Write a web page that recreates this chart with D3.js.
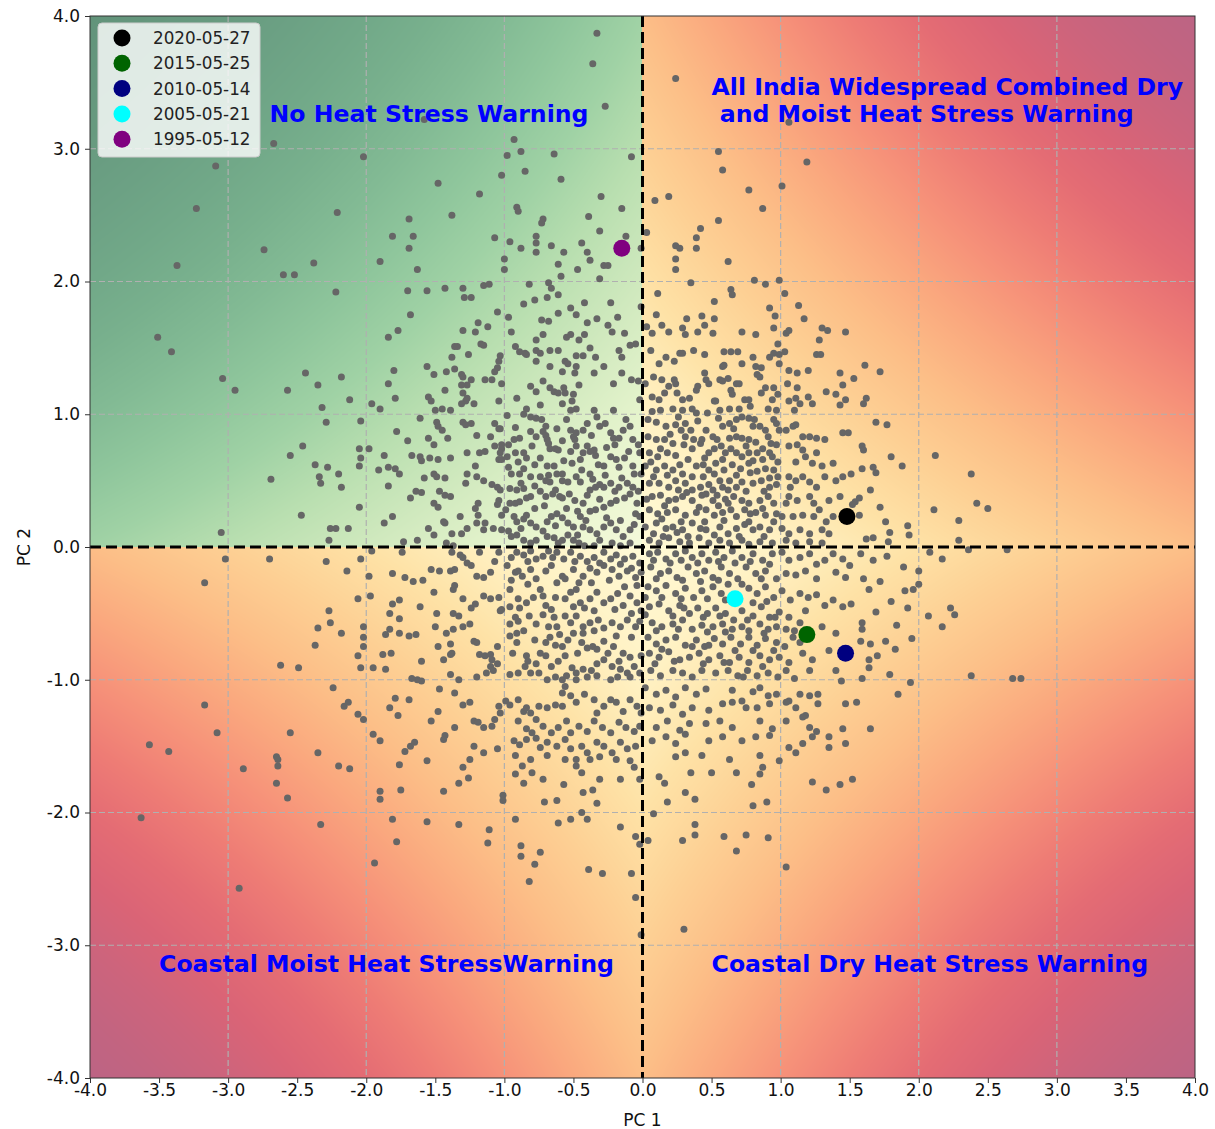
<!DOCTYPE html>
<html>
<head>
<meta charset="utf-8">
<script src="https://cdn.jsdelivr.net/npm/d3@7"></script>
<style>
  body { margin: 0; background: #fff; }
  text { font-family: "DejaVu Sans", sans-serif; }
</style>
</head>
<body>
<svg id="chart" width="1215" height="1129"></svg>
<script>
// tick labels
const xTickValues = [-4, -3.5, -3, -2.5, -2, -1.5, -1, -0.5, 0, 0.5, 1, 1.5, 2, 2.5, 3, 3.5, 4];
const yTickValues = [-4, -3, -2, -1, 0, 1, 2, 3, 4];
const gridValues = [-3, -2, -1, 1, 2, 3];

// highlighted days
const highlightDates = ["2020-05-27", "2015-05-25", "2010-05-14", "2005-05-21", "1995-05-12"];
const highlightPC1 = [1.48, 1.19, 1.47, 0.67, -0.15];
const highlightPC2 = [0.23, -0.66, -0.80, -0.39, 2.25];

// quadrant labels
const quadrantLabels = [
  ["No Heat Stress Warning"],
  ["All India Widespread Combined Dry", " and Moist Heat Stress Warning"],
  ["Coastal Moist Heat StressWarning"],
  ["Coastal Dry Heat Stress Warning"]
];

// all days, [PC1, PC2]
const outerTopLeft = [[-0.33,3.87],[-0.36,3.64],[-0.27,3.32],[-1.58,3.22],[-0.93,3.07],[-0.88,2.98],[-0.98,2.95],[-0.64,2.96],[-0.08,2.94],[-2.67,3.04],[-2.02,2.94],[-3.09,2.87],[-0.85,2.83],[-1.02,2.80],[-1.48,2.74],[-1.18,2.66],[-0.59,2.77],[-0.30,2.64],[-0.15,2.55],[-0.91,2.56],[-0.90,2.53],[-1.38,2.50],[-3.23,2.55],[-2.21,2.52],[-1.69,2.47],[-0.72,2.47],[-0.73,2.44],[-0.39,2.49],[-0.31,2.38],[-1.81,2.34],[-1.66,2.34],[-1.69,2.25],[-1.07,2.33],[-0.96,2.30],[-0.77,2.34],[-0.77,2.29],[-0.77,2.22],[-0.88,2.25],[-0.66,2.27],[-0.57,2.22],[-0.44,2.29],[-0.40,2.22],[-0.38,2.16],[-0.12,2.34],[-0.01,2.25],[-2.74,2.24],[-3.37,2.12],[-2.38,2.14],[-1.90,2.15],[-1.63,2.09],[-1.00,2.17],[-1.00,2.09],[-0.61,2.13],[-0.47,2.09],[-0.28,2.12],[-0.25,2.12],[-0.31,2.02],[-2.60,2.05],[-2.52,2.05],[-1.15,1.97],[-1.11,1.98],[-0.82,1.98],[-0.68,1.99],[-0.66,1.95],[-0.59,2.04],[-2.22,1.92],[-1.70,1.93],[-1.56,1.93],[-1.43,1.95],[-1.30,1.95],[-1.29,1.88],[-1.24,1.88],[-0.86,1.83],[-0.78,1.86],[-0.69,1.88],[-0.61,1.90],[-0.42,1.84],[-0.23,1.84],[-0.01,1.81],[-1.05,1.77],[-0.97,1.73],[-0.61,1.76],[-0.52,1.80],[-0.48,1.75],[-0.33,1.72],[-0.18,1.73],[-1.68,1.75],[-1.19,1.69],[-0.73,1.71],[-0.68,1.70],[-0.40,1.69],[-1.12,1.66],[-0.25,1.67],
  [-1.77,1.63],[-1.84,1.58],[-3.51,1.58],[-3.41,1.47],[-1.56,1.36],[-2.44,1.31],[-2.18,1.28],[-1.80,1.33],[-3.04,1.27],[-2.95,1.18],[-2.57,1.18],[-2.35,1.22],[-1.84,1.23],[-2.12,1.11],[-1.96,1.08],[-1.90,1.04],[-1.79,1.12],[-2.32,1.05],[-2.29,0.94],[-2.04,0.95],[-1.61,0.97],[-1.78,0.87],[-1.70,0.80],[-2.46,0.76],[-2.55,0.69],[-2.05,0.74],[-1.98,0.74],[-2.04,0.67],[-1.87,0.69],[-1.67,0.69],[-1.61,0.68],[-1.60,0.65],[-2.37,0.62],[-2.28,0.60],[-2.34,0.53],[-2.33,0.48],[-2.20,0.55],[-2.18,0.45],[-2.69,0.51],[-2.05,0.61],[-1.91,0.58],[-1.84,0.60],[-1.79,0.59],[-1.76,0.55],[-1.58,0.52],[-1.84,0.46],[-1.68,0.37],[-1.64,0.42],[-1.60,0.41],[-2.05,0.30],[-2.47,0.24],[-3.05,0.11],[-1.81,0.23],[-1.87,0.18],[-2.26,0.14],[-2.22,0.14],[-2.13,0.14],[-2.27,0.05],[-1.73,0.04],[-1.55,0.14],[-1.63,0.05],[-1.55,1.13],[-1.55,0.82]];

const outerTopRight = [[0.24,3.53],[1.06,3.20],[0.55,2.98],[0.58,2.84],[1.19,2.90],[1.01,2.72],[0.77,2.69],[0.87,2.55],[0.09,2.61],[0.19,2.64],[0.55,2.46],[0.03,2.37],[0.42,2.40],[0.39,2.33],[0.24,2.27],[0.27,2.25],[0.39,2.25],[0.24,2.17],[0.24,2.09],[0.62,2.15],[0.35,1.99],[0.11,1.91],[0.81,2.01],[0.89,1.98],[0.99,2.01],[0.64,1.94],[0.65,1.90],[1.03,1.91],[0.52,1.85],[1.13,1.82],[0.92,1.80],[0.10,1.75],[0.14,1.67],[0.32,1.72],[0.43,1.74],[0.52,1.72],[0.45,1.67],[0.96,1.74],[1.17,1.72],[1.30,1.65],[0.29,1.65],[0.95,1.65],[0.03,1.66],
  [1.61,1.37],[1.72,1.32],[1.62,1.12],[1.60,1.08],[1.69,0.94],[1.77,0.92],[2.12,0.69],[2.38,0.55],[2.11,0.28],[2.42,0.33],[2.50,0.29],[2.29,0.20],[2.29,0.05],[1.92,0.16],[1.93,0.09],[1.79,0.11],[1.78,0.04],[1.67,0.07],[1.62,0.06],[1.59,0.76],[1.60,0.73],[1.80,0.68],[1.88,0.61],[1.59,0.59],[1.67,0.60],[1.69,0.56],[1.65,0.43],[1.72,0.30],[1.57,0.24],[1.54,0.34],[1.57,0.37],[1.76,0.19]];

const outerBottomLeft = [[-3.02,-0.09],[-2.70,-0.09],[-2.29,-0.11],[-2.04,-0.09],[-3.17,-0.27],[-2.14,-0.18],[-1.98,-0.22],[-2.06,-0.39],[-1.97,-0.37],[-2.27,-0.48],[-2.26,-0.57],[-2.35,-0.61],[-2.18,-0.65],[-2.37,-0.74],[-2.02,-0.60],[-2.02,-0.68],[-2.02,-0.75],[-2.06,-0.82],[-2.04,-0.91],[-2.62,-0.89],[-2.49,-0.91],[-2.24,-1.06],[-2.16,-1.20],[-2.13,-1.17],[-2.06,-1.26],[-2.02,-1.30],[-3.17,-1.19],[-3.08,-1.40],[-2.55,-1.40],[-3.57,-1.49],[-3.43,-1.54],[-2.89,-1.67],[-2.65,-1.58],[-2.64,-1.60],[-2.64,-1.65],[-2.35,-1.55],[-2.20,-1.65],[-2.12,-1.67],[-2.65,-1.78],[-2.57,-1.89],[-3.63,-2.04],[-2.33,-2.09],[-2.92,-2.57],[-1.95,-1.41],[-1.90,-1.46],[-1.94,-2.38],[-1.81,-2.05],[-1.78,-2.22],[-1.90,-1.84],[-1.90,-1.90],[-1.75,-1.83],[-1.76,-1.64],[-1.72,-1.54],[-1.68,-1.50],[-1.65,-1.47],[-1.56,-1.61],[-1.44,-1.84],[-1.56,-2.07],[-1.33,-2.09],[-1.11,-2.13],[-1.12,-2.23],[-0.88,-2.25],[-0.88,-2.33],[-0.74,-2.30],[-0.78,-2.39],[-0.82,-2.52],[-0.39,-2.43],[-0.29,-2.46],[-0.08,-2.46],[-0.05,-2.64],[-0.01,-2.92],[-0.92,-2.05],[-0.61,-2.08],[-0.52,-2.05],[-0.40,-2.05],[-0.16,-2.11],[-0.05,-2.18],[-0.02,-2.24],[-1.01,-1.87],[-1.01,-1.91],[-0.71,-1.92],[-0.57,-1.79],[-0.43,-1.85],[-0.33,-1.93],[-0.44,-2.00],[-0.92,-1.71],[-0.86,-1.78],[-0.80,-1.70],[-0.72,-1.75],[-1.33,-1.78],[-1.26,-1.74],[-1.30,-1.66],[-0.87,-1.65],[-0.48,-1.65],[-0.31,-1.75],[-0.44,-1.70],[-0.36,-1.83],[-0.16,-1.75],[-0.06,-1.66],[-0.02,-1.75],[-0.62,-1.91],[-1.83,-1.21],[-1.77,-1.27],[-1.69,-1.15],[-1.79,-1.14],[-1.63,-1.00],[-1.60,-1.01],[-1.67,-0.99],
  [-1.96,-0.03],[-1.81,-0.20],[-1.74,-0.04],[-1.72,-0.23],[-1.66,-0.26],[-1.59,-0.25],[-1.61,-0.45],[-1.76,-0.54],[-1.83,-0.50],[-1.81,-0.43],[-1.76,-0.40],[-1.83,-0.62],[-1.86,-0.66],[-1.76,-0.65],[-1.69,-0.67],[-1.64,-0.66],[-1.88,-0.81],[-1.82,-0.80],[-1.95,-0.91],[-1.86,-0.92],[-1.60,-0.86]];

const outerBottomRight = [[2.17,-0.09],[2.08,-0.04],[2.36,-0.02],[2.64,-0.02],[2.23,-0.46],[2.26,-0.51],[2.07,-0.52],[2.17,-0.60],[1.95,-0.69],[1.84,-0.59],[1.83,-0.77],[1.76,-0.71],[1.89,-0.15],[2.00,-0.18],[1.90,-0.33],[1.96,-0.32],[2.00,-0.28],[1.92,-0.46],[1.80,-0.41],[1.69,-0.49],[1.59,-0.57],[1.59,-0.62],[1.65,-0.73],[1.70,-0.82],[1.58,-0.71],[1.64,-0.85],[1.64,-0.91],[1.79,-0.96],[2.38,-0.97],[2.68,-0.99],[2.74,-0.99],[1.94,-1.02],[1.85,-1.11],[1.59,-0.99],[1.55,-1.17],[1.65,-1.37],[1.58,-0.05],[1.67,-0.10],[1.77,-0.07],[1.72,-0.26],[1.64,-0.32],[1.60,-0.24],
  [1.23,-1.77],[1.33,-1.83],[1.43,-1.79],[1.52,-1.75],[1.04,-2.41],[0.68,-2.29],[0.30,-2.88],[0.04,-2.21],[0.29,-2.21],[0.38,-2.17],[0.38,-2.09],[0.59,-2.18],[0.75,-2.17],[0.91,-2.19],[0.08,-2.01],[0.18,-1.92],[0.31,-1.85],[0.38,-1.90],[0.80,-1.95],[0.90,-1.92],[0.79,-1.79],[0.85,-1.71],[0.12,-1.73],[0.16,-1.78],[0.35,-1.70],[0.50,-1.70],[0.68,-1.70],[0.87,-1.66]];

const coreTopLeft = [[-1.30,1.63],[-1.21,1.62],[-1.17,1.53],[-1.15,1.52],[-1.36,1.51],[-1.34,1.51],[-1.38,1.43],[-1.26,1.45],[-1.03,1.44],[-1.04,1.40],[-1.05,1.35],[-1.07,1.32],[-1.42,1.32],[-1.36,1.34],[-1.51,1.30],[-1.31,1.30],[-1.30,1.28],[-1.24,1.26],[-1.14,1.26],[-1.09,1.26],[-1.27,1.22],[-1.31,1.22],[-1.02,1.23],[-1.43,1.18],[-1.53,1.10],[-1.30,1.16],[-1.27,1.12],[-1.28,1.10],[-1.31,1.08],[-1.22,1.08],[-1.04,1.10],[-1.45,1.04],[-1.50,1.03],[-1.39,1.03],
  [-0.95,1.62],[-0.92,1.51],[-0.89,1.47],[-0.85,1.46],[-0.84,1.45],[-0.77,1.56],[-0.72,1.60],[-0.77,1.48],[-0.74,1.46],[-0.67,1.48],[-0.61,1.48],[-0.55,1.58],[-0.52,1.60],[-0.46,1.56],[-0.42,1.60],[-0.38,1.50],[-0.22,1.62],[-0.13,1.61],[-0.05,1.53],[-0.09,1.52],[-0.17,1.48],[-0.15,1.43],[-0.48,1.44],[-0.43,1.44],[-0.34,1.43],[-0.56,1.40],[-0.54,1.38],[-0.77,1.40],[-0.67,1.36],[-0.58,1.32],[-0.48,1.36],[-0.49,1.31],[-0.35,1.31],[-0.28,1.36],[-0.15,1.31],[-0.08,1.26],[-0.03,1.25],[-0.81,1.21],[-0.77,1.17],[-0.72,1.25],[-0.67,1.20],[-0.64,1.17],[-0.61,1.16],[-0.57,1.20],[-0.56,1.16],[-0.46,1.22],[-0.50,1.15],[-0.21,1.23],[-0.91,1.12],[-0.84,1.04],[-0.74,1.07],[-0.58,1.08],[-0.51,1.10],[-0.48,1.04],[-0.52,1.03],[-0.35,1.03],[-0.21,1.03],[-0.02,1.11],
  [-1.49,0.94],[-1.48,0.91],[-1.45,0.88],[-1.30,0.94],[-1.28,0.92],[-1.24,0.93],[-1.07,0.93],[-1.04,0.89],[-1.03,0.89],[-1.41,0.82],[-1.20,0.84],[-1.10,0.83],[-1.07,0.76],[-1.02,0.77],[-1.02,0.74],[-1.03,0.71],[-1.51,0.77],[-1.54,0.67],[-1.48,0.66],[-1.39,0.67],[-1.27,0.71],[-1.18,0.71],[-1.14,0.72],[-1.04,0.66],[-1.02,0.66],[-1.21,0.61],[-1.20,0.53],[-1.27,0.55],[-1.51,0.55],[-1.49,0.53],[-1.43,0.52],[-1.28,0.48],[-1.15,0.50],[-1.09,0.47],[-1.05,0.45],[-1.03,0.43],[-1.04,0.35],[-1.47,0.42],[-1.43,0.39],[-1.39,0.38],[-1.51,0.33],[-1.48,0.30],[-1.19,0.33],[-1.21,0.29],[-1.05,0.32],[-1.43,0.18],[-1.44,0.19],[-1.32,0.23],[-1.19,0.24],[-1.14,0.18],[-1.20,0.18],[-1.08,0.14],[-1.51,0.09],[-1.38,0.10],[-1.31,0.10],[-1.27,0.14],[-1.15,0.13],[-1.02,0.24],[-1.02,0.13],[-1.42,0.03],[-1.37,0.01],
  [-0.98,0.99],[-0.81,0.98],[-0.77,0.97],[-0.73,0.96],[-0.70,0.91],[-0.72,0.87],[-0.70,0.84],[-0.69,0.81],[-0.68,0.78],[-0.67,0.74],[-0.63,0.74],[-0.61,0.73],[-0.81,0.87],[-0.77,0.83],[-0.89,0.82],[-0.93,0.81],[-0.97,0.77],[-0.98,0.68],[-0.92,0.71],[-0.90,0.64],[-0.86,0.71],[-0.84,0.67],[-0.74,0.67],[-0.69,0.61],[-0.64,0.61],[-0.68,0.54],[-0.62,0.55],[-0.58,0.55],[-0.52,0.88],[-0.50,0.83],[-0.48,0.86],[-0.49,0.81],[-0.43,0.88],[-0.40,0.93],[-0.33,0.98],[-0.31,0.91],[-0.27,0.93],[-0.23,0.86],[-0.21,0.82],[-0.20,0.77],[-0.17,0.82],[-0.14,0.88],[-0.09,0.91],[-0.07,0.81],[-0.03,0.77],[-0.02,0.71],[-0.23,0.68],[-0.19,0.66],[-0.13,0.67],[-0.07,0.61],[-0.28,0.61],[-0.34,0.69],[-0.35,0.73],[-0.38,0.72],[-0.40,0.76],[-0.43,0.71],[-0.48,0.76],[-0.52,0.72],[-0.51,0.63],[-0.44,0.58],[-0.38,0.55],[-0.48,0.53],[-0.54,0.49],[-0.58,0.50],[-0.67,0.49],[-0.74,0.53],[-0.81,0.53],[-0.89,0.55],[-0.95,0.55],[-0.96,0.44],[-0.91,0.43],[-0.86,0.44],[-0.81,0.38],[-0.84,0.37],[-0.89,0.34],[-0.92,0.33],[-0.96,0.33],[-0.74,0.42],[-0.70,0.38],[-0.65,0.40],[-0.63,0.43],[-0.60,0.38],[-0.58,0.37],[-0.53,0.40],[-0.49,0.35],[-0.43,0.33],[-0.40,0.39],[-0.38,0.43],[-0.34,0.45],[-0.31,0.47],[-0.28,0.45],[-0.23,0.48],[-0.17,0.45],[-0.11,0.48],[-0.07,0.45],[-0.01,0.55],[-0.38,0.27],[-0.34,0.28],[-0.28,0.30],[-0.23,0.33],[-0.19,0.35],[-0.13,0.37],[-0.09,0.40],[-0.04,0.33],[-0.05,0.25],[-0.02,0.23],[-0.93,0.23],[-0.91,0.19],[-0.86,0.21],[-0.84,0.24],[-0.81,0.18],[-0.77,0.15],[-0.69,0.19],[-0.66,0.23],[-0.62,0.25],[-0.58,0.22],[-0.54,0.18],[-0.50,0.15],[-0.45,0.23],[-0.43,0.15],[-0.38,0.13],[-0.33,0.10],[-0.28,0.15],[-0.23,0.18],[-0.19,0.13],[-0.14,0.08],[-0.09,0.13],[-0.95,0.08],[-0.91,0.09],[-0.86,0.05],[-0.81,0.03],[-0.77,0.05],[-0.69,0.08],[-0.64,0.07],[-0.61,0.03],[-0.58,0.05],[-0.54,0.09],[-0.50,0.05],[-0.46,0.03],[-0.42,0.01],[-0.35,0.01],[-0.31,0.05],[-0.22,0.03],[-0.16,0.01],[-0.09,0.03],
  [-0.97,0.12],[-0.88,0.14],[-0.72,0.12],[-0.63,0.16],[-0.47,0.09],[-0.41,0.20],[-0.26,0.22],[-0.16,0.20],[-0.06,0.17],[-0.99,0.28],[-0.78,0.29],[-0.71,0.31],[-0.55,0.29],[-0.47,0.27],[-0.31,0.36],[-0.20,0.42],[-0.03,0.42],[-0.88,0.48],[-0.78,0.46],[-0.70,0.50],[-0.45,0.49],[-0.36,0.51],[-0.27,0.54],[-0.15,0.52],[-0.06,0.55],[-0.97,0.60],[-0.86,0.59],[-0.78,0.62],[-0.57,0.65],[-0.45,0.66],[-0.32,0.62],[-0.17,0.60],[-0.10,0.72],[-0.26,0.75],[-0.58,0.80],[-0.80,0.76],[-0.92,0.90],[-0.62,0.89],[-0.37,0.84],[-0.12,0.96],[-0.55,0.96],[-0.86,1.00]];

const coreTopRight = [[0.07,1.61],[0.19,1.62],[0.31,1.60],[0.40,1.62],[0.51,1.61],[0.72,1.62],[0.82,1.60],[0.98,1.53],[1.04,1.61],[1.06,1.63],[1.28,1.56],[1.26,1.45],[1.29,1.45],[1.34,1.63],[1.47,1.62],[0.06,1.48],[0.12,1.38],[0.17,1.43],[0.23,1.40],[0.27,1.46],[0.29,1.46],[0.37,1.48],[0.45,1.45],[0.59,1.47],[0.64,1.47],[0.69,1.47],[0.58,1.36],[0.59,1.37],[0.72,1.38],[0.80,1.43],[0.82,1.36],[0.86,1.35],[0.92,1.43],[0.95,1.46],[0.99,1.45],[1.03,1.47],[0.99,1.38],[1.06,1.33],[1.12,1.31],[1.20,1.33],[1.43,1.31],[1.45,1.22],[1.33,1.17],[1.40,1.15],[1.53,1.27],
  [0.02,1.23],[0.08,1.28],[0.14,1.26],[0.23,1.26],[0.24,1.23],[0.19,1.21],[0.25,1.16],[0.29,1.11],[0.07,1.13],[0.12,1.11],[0.16,1.16],[0.34,1.12],[0.39,1.18],[0.40,1.21],[0.45,1.31],[0.46,1.26],[0.48,1.23],[0.52,1.10],[0.53,1.10],[0.56,1.26],[0.58,1.25],[0.62,1.27],[0.64,1.18],[0.65,1.15],[0.68,1.23],[0.70,1.23],[0.74,1.11],[0.77,1.11],[0.78,1.06],[0.83,1.30],[0.85,1.28],[0.86,1.16],[0.89,1.20],[0.95,1.20],[0.98,1.15],[0.94,1.11],[0.91,1.04],[0.97,1.03],[1.05,1.23],[1.12,1.20],[1.11,1.12],[1.14,1.08],[1.06,1.10],[1.20,1.13],[1.23,1.08],[1.10,1.03],[1.43,1.07],[1.47,1.11],[0.07,1.02],[0.13,1.03],[0.22,1.04],[0.29,1.03],[0.36,1.04],[0.39,1.01],[0.47,1.01],[0.56,1.03],[0.63,1.04],[0.70,1.04],
  [0.04,0.96],[0.10,0.94],[0.17,0.91],[0.24,0.92],[0.31,0.93],[0.28,0.88],[0.31,0.83],[0.37,0.81],[0.30,0.77],[0.04,0.83],[0.10,0.81],[0.16,0.81],[0.22,0.78],[0.13,0.74],[0.05,0.71],[0.11,0.68],[0.18,0.71],[0.24,0.69],[0.36,0.74],[0.42,0.78],[0.43,0.81],[0.46,0.88],[0.51,0.83],[0.54,0.81],[0.58,0.91],[0.57,0.76],[0.52,0.74],[0.48,0.71],[0.45,0.67],[0.63,0.93],[0.68,0.96],[0.72,0.98],[0.77,0.97],[0.80,0.91],[0.81,0.96],[0.85,0.91],[0.89,0.88],[0.91,0.83],[0.95,0.96],[0.97,0.93],[0.99,0.88],[0.93,0.78],[0.97,0.77],[0.87,0.74],[0.82,0.79],[0.77,0.81],[0.72,0.82],[0.68,0.83],[0.63,0.82],[0.64,0.74],[0.68,0.71],[0.72,0.68],[0.77,0.71],[0.83,0.71],[0.87,0.66],[0.94,0.68],[0.98,0.64],[1.04,0.88],[1.09,0.91],[1.11,0.92],[1.16,0.83],[1.21,0.83],[1.26,0.82],[1.32,0.81],[1.45,0.86],[1.49,0.86],[1.06,0.76],[1.12,0.77],[1.16,0.73],[1.18,0.68],[1.11,0.64],[1.23,0.63],[1.30,0.61],[1.38,0.63],[1.26,0.71],
  [0.02,0.61],[0.10,0.58],[0.16,0.61],[0.22,0.58],[0.29,0.55],[0.36,0.53],[0.39,0.61],[0.48,0.58],[0.53,0.63],[0.59,0.58],[0.65,0.62],[0.71,0.59],[0.77,0.63],[0.83,0.57],[0.89,0.59],[0.95,0.58],[0.98,0.53],[0.05,0.48],[0.12,0.48],[0.19,0.45],[0.24,0.50],[0.31,0.48],[0.36,0.43],[0.42,0.45],[0.48,0.47],[0.51,0.43],[0.56,0.50],[0.58,0.45],[0.63,0.50],[0.68,0.45],[0.72,0.49],[0.80,0.48],[0.86,0.50],[0.92,0.45],[0.97,0.47],[1.06,0.53],[1.07,0.45],[1.11,0.50],[1.16,0.53],[1.21,0.49],[1.26,0.45],[1.32,0.53],[1.40,0.50],[1.45,0.53],[1.51,0.55],[0.07,0.38],[0.13,0.39],[0.19,0.35],[0.24,0.36],[0.29,0.38],[0.36,0.35],[0.43,0.39],[0.51,0.35],[0.54,0.39],[0.60,0.36],[0.66,0.38],[0.72,0.35],[0.77,0.33],[0.85,0.35],[0.91,0.38],[0.95,0.33],[1.04,0.33],[1.06,0.38],[1.12,0.35],[1.21,0.38],[1.24,0.33],[1.28,0.28],[1.35,0.35],[1.43,0.38],[1.52,0.32],[0.05,0.28],[0.11,0.25],[0.18,0.26],[0.24,0.28],[0.31,0.24],[0.39,0.26],[0.46,0.28],[0.52,0.24],[0.58,0.26],[0.64,0.28],[0.68,0.23],[0.78,0.25],[0.82,0.26],[0.89,0.24],[0.97,0.25],[1.01,0.23],[1.09,0.23],[1.16,0.24],[1.24,0.23],[1.33,0.19],[1.38,0.23],[0.02,0.15],[0.10,0.18],[0.17,0.14],[0.22,0.15],[0.29,0.13],[0.36,0.18],[0.42,0.14],[0.46,0.13],[0.56,0.15],[0.62,0.10],[0.68,0.14],[0.74,0.17],[0.80,0.13],[0.85,0.15],[0.92,0.13],[1.01,0.14],[1.06,0.10],[1.14,0.13],[1.21,0.10],[1.30,0.13],[1.35,0.10],[0.05,0.05],[0.12,0.03],[0.19,0.07],[0.27,0.04],[0.34,0.03],[0.41,0.07],[0.48,0.03],[0.56,0.05],[0.63,0.03],[0.72,0.05],[0.77,0.02],[0.85,0.04],[0.94,0.03],[1.04,0.05],[1.11,0.03],[1.21,0.04],[1.30,0.03],
  [0.08,0.10],[0.15,0.08],[0.25,0.11],[0.33,0.08],[0.45,0.19],[0.52,0.09],[0.59,0.20],[0.70,0.08],[0.77,0.19],[0.88,0.08],[0.95,0.19],[0.14,0.21],[0.28,0.19],[0.41,0.30],[0.55,0.31],[0.62,0.33],[0.74,0.28],[0.87,0.29],[0.16,0.31],[0.03,0.36],[0.32,0.41],[0.46,0.40],[0.62,0.43],[0.75,0.42],[0.88,0.42],[0.08,0.53],[0.18,0.54],[0.26,0.43],[0.44,0.53],[0.52,0.55],[0.68,0.54],[0.78,0.56],[0.92,0.52],[0.06,0.64],[0.27,0.62],[0.33,0.66],[0.44,0.62],[0.58,0.66],[0.80,0.65],[0.92,0.71],[0.20,0.85],[0.35,0.88],[0.40,0.95],[0.55,0.97],[0.66,0.89],[0.75,0.76],[0.60,0.71],[0.26,0.98]];

const coreBottomLeft = [[-1.38,-0.04],[-1.32,-0.06],[-1.30,-0.08],[-1.27,-0.12],[-1.18,-0.04],[-1.07,-0.11],[-1.04,-0.04],[-0.91,-0.04],[-0.86,-0.06],[-0.81,-0.03],[-0.77,-0.09],[-0.72,-0.07],[-0.68,-0.03],[-0.62,-0.04],[-0.57,-0.09],[-0.52,-0.04],[-0.45,-0.07],[-0.40,-0.11],[-0.35,-0.08],[-0.28,-0.04],[-0.23,-0.09],[-0.19,-0.06],[-0.13,-0.09],[-0.07,-0.07],[-0.02,-0.12],[-1.53,-0.17],[-1.47,-0.18],[-1.39,-0.18],[-1.36,-0.17],[-1.24,-0.14],[-1.20,-0.22],[-1.15,-0.23],[-1.10,-0.19],[-0.98,-0.14],[-0.92,-0.19],[-0.90,-0.18],[-0.87,-0.22],[-0.81,-0.17],[-0.77,-0.24],[-0.70,-0.18],[-0.66,-0.14],[-0.58,-0.22],[-0.56,-0.24],[-0.50,-0.17],[-0.43,-0.22],[-0.38,-0.16],[-0.33,-0.19],[-0.28,-0.14],[-0.22,-0.17],[-0.17,-0.22],[-0.11,-0.18],[-0.05,-0.23],[-0.01,-0.19],
  [-1.51,-0.34],[-1.37,-0.32],[-1.36,-0.29],[-1.30,-0.39],[-1.24,-0.46],[-1.21,-0.43],[-1.15,-0.37],[-1.10,-0.39],[-1.04,-0.38],[-1.03,-0.48],[-1.02,-0.47],[-1.49,-0.50],[-1.50,-0.60],[-1.37,-0.50],[-1.33,-0.52],[-1.30,-0.60],[-1.25,-0.58],[-0.96,-0.32],[-0.90,-0.39],[-0.89,-0.46],[-0.84,-0.42],[-0.74,-0.32],[-0.72,-0.37],[-0.70,-0.44],[-0.66,-0.47],[-0.64,-0.53],[-0.62,-0.60],[-0.68,-0.60],[-0.77,-0.58],[-0.90,-0.56],[-0.92,-0.53],[-0.96,-0.58],[-0.56,-0.39],[-0.52,-0.34],[-0.48,-0.32],[-0.45,-0.42],[-0.42,-0.46],[-0.38,-0.39],[-0.33,-0.34],[-0.28,-0.42],[-0.23,-0.39],[-0.20,-0.47],[-0.14,-0.44],[-0.09,-0.37],[-0.04,-0.42],[-0.01,-0.48],[-0.56,-0.52],[-0.52,-0.57],[-0.48,-0.52],[-0.43,-0.60],[-0.38,-0.57],[-0.32,-0.55],[-0.28,-0.61],[-0.22,-0.57],[-0.16,-0.60],[-0.11,-0.55],[-0.05,-0.60],[-0.02,-0.56],
  [-1.42,-0.65],[-1.37,-0.62],[-1.48,-0.75],[-1.39,-0.73],[-1.38,-0.80],[-1.39,-0.81],[-1.44,-0.85],[-1.22,-0.71],[-1.20,-0.72],[-1.18,-0.81],[-1.14,-0.82],[-1.10,-0.81],[-1.09,-0.85],[-1.05,-0.75],[-1.05,-0.88],[-1.10,-0.90],[-1.08,-0.93],[-0.96,-0.67],[-0.91,-0.65],[-0.91,-0.72],[-0.84,-0.82],[-0.83,-0.86],[-0.85,-0.90],[-0.81,-0.95],[-0.77,-0.88],[-0.74,-0.80],[-0.70,-0.72],[-0.67,-0.68],[-0.58,-0.75],[-0.54,-0.70],[-0.50,-0.65],[-0.44,-0.72],[-0.43,-0.65],[-0.40,-0.76],[-0.36,-0.75],[-0.33,-0.77],[-0.28,-0.71],[-0.21,-0.75],[-0.14,-0.80],[-0.01,-0.82],[-0.70,-0.82],[-0.66,-0.90],[-0.61,-0.86],[-0.56,-0.82],[-0.51,-0.91],[-0.48,-0.95],[-0.43,-0.92],[-0.33,-0.88],[-0.28,-0.85],[-0.22,-0.90],[-0.17,-0.86],[-0.11,-0.95],[-0.06,-0.90],[-0.02,-0.95],[-0.69,-1.00],[-0.63,-0.98],[-0.58,-1.00],[-0.55,-0.97],[-0.48,-1.00],[-0.40,-0.98],[-0.33,-0.97],[-0.23,-1.00],[-0.18,-0.98],[-0.09,-0.98],[-1.39,-0.96],[-1.33,-1.00],[-1.20,-0.98],[-1.13,-0.95],[-0.96,-0.96],[-0.90,-0.95],
  [-1.47,-1.07],[-1.36,-1.10],[-1.30,-1.19],[-1.25,-1.17],[-1.48,-1.24],[-1.53,-1.31],[-1.36,-1.36],[-1.43,-1.42],[-1.44,-1.45],[-1.22,-1.31],[-1.19,-1.32],[-1.15,-1.36],[-1.09,-1.35],[-1.04,-1.20],[-1.03,-1.25],[-1.07,-1.30],[-1.22,-1.50],[-1.15,-1.55],[-1.25,-1.60],[-1.05,-1.52],[-0.99,-1.16],[-0.96,-1.19],[-0.90,-1.15],[-0.86,-1.24],[-0.84,-1.21],[-0.81,-1.25],[-0.75,-1.20],[-0.69,-1.21],[-0.63,-1.19],[-0.58,-1.20],[-0.58,-1.10],[-0.56,-1.05],[-0.52,-1.12],[-0.48,-1.17],[-0.42,-1.11],[-0.35,-1.15],[-0.33,-1.25],[-0.28,-1.20],[-0.23,-1.15],[-0.19,-1.17],[-0.14,-1.24],[-0.09,-1.15],[-0.04,-1.20],[-0.01,-1.25],[-0.90,-1.31],[-0.84,-1.37],[-0.80,-1.40],[-0.77,-1.30],[-0.72,-1.35],[-0.66,-1.40],[-0.61,-1.36],[-0.55,-1.31],[-0.52,-1.40],[-0.46,-1.35],[-0.40,-1.39],[-0.35,-1.31],[-0.29,-1.36],[-0.23,-1.40],[-0.17,-1.32],[-0.12,-1.36],[-0.06,-1.39],[-0.02,-1.35],[-0.93,-1.46],[-0.89,-1.49],[-0.84,-1.45],[-0.77,-1.44],[-0.74,-1.51],[-0.69,-1.47],[-0.62,-1.50],[-0.56,-1.45],[-0.52,-1.52],[-0.44,-1.50],[-0.40,-1.55],[-0.33,-1.47],[-0.28,-1.50],[-0.22,-1.55],[-0.16,-1.47],[-0.11,-1.52],[-0.05,-1.50],[-0.92,-1.57],[-0.81,-1.60],[-0.69,-1.57],[-0.56,-1.60],[-0.48,-1.60],[-0.38,-1.60],[-0.31,-1.58],[-0.19,-1.60],[-0.09,-1.61],
  [-0.95,-0.08],[-0.83,-0.11],[-0.65,-0.08],[-0.49,-0.11],[-0.31,-0.12],[-0.16,-0.13],[-0.08,-0.16],[-0.95,-0.25],[-0.83,-0.28],[-0.62,-0.27],[-0.46,-0.27],[-0.37,-0.27],[-0.24,-0.25],[-0.13,-0.30],[-0.04,-0.29],[-0.79,-0.38],[-0.63,-0.38],[-0.50,-0.45],[-0.35,-0.48],[-0.18,-0.35],[-0.08,-0.50],[-0.96,-0.45],[-0.82,-0.52],[-0.72,-0.51],[-0.60,-0.66],[-0.35,-0.63],[-0.19,-0.67],[-0.08,-0.68],[-0.86,-0.63],[-0.78,-0.70],[-0.47,-0.80],[-0.25,-0.80],[-0.09,-0.83],[-0.94,-0.80],[-0.37,-0.93],[-0.16,-0.92],[-0.63,-0.74],[-0.75,-0.95]];

const coreBottomRight = [[0.05,-0.05],[0.11,-0.04],[0.17,-0.09],[0.24,-0.05],[0.31,-0.03],[0.36,-0.08],[0.43,-0.05],[0.48,-0.10],[0.53,-0.04],[0.59,-0.08],[0.65,-0.03],[0.72,-0.08],[0.80,-0.05],[0.87,-0.10],[0.94,-0.05],[1.01,-0.04],[1.06,-0.10],[1.14,-0.08],[1.21,-0.05],[1.26,-0.13],[1.32,-0.10],[1.38,-0.05],[1.45,-0.09],[1.50,-0.14],[0.06,-0.15],[0.13,-0.20],[0.19,-0.18],[0.25,-0.23],[0.33,-0.15],[0.39,-0.20],[0.45,-0.18],[0.51,-0.23],[0.57,-0.15],[0.63,-0.20],[0.69,-0.24],[0.75,-0.15],[0.82,-0.20],[0.89,-0.18],[0.97,-0.24],[1.04,-0.20],[1.11,-0.21],[1.18,-0.18],[1.26,-0.24],[1.40,-0.19],[1.47,-0.23],
  [0.04,-0.30],[0.10,-0.33],[0.17,-0.29],[0.24,-0.35],[0.31,-0.31],[0.37,-0.38],[0.43,-0.33],[0.51,-0.30],[0.57,-0.35],[0.62,-0.28],[0.77,-0.31],[0.83,-0.35],[0.89,-0.30],[0.95,-0.38],[1.01,-0.33],[1.07,-0.40],[1.14,-0.35],[1.20,-0.38],[1.26,-0.36],[1.32,-0.44],[1.38,-0.40],[1.45,-0.45],[1.51,-0.43],[0.05,-0.45],[0.12,-0.43],[0.19,-0.48],[0.27,-0.44],[0.34,-0.50],[0.40,-0.46],[0.47,-0.50],[0.53,-0.46],[0.60,-0.50],[0.66,-0.55],[0.72,-0.48],[0.80,-0.52],[0.86,-0.45],[0.92,-0.53],[0.99,-0.49],[1.06,-0.53],[1.14,-0.57],[1.18,-0.48],[1.30,-0.60],[1.40,-0.65],[0.07,-0.57],[0.14,-0.60],[0.22,-0.58],[0.29,-0.55],[0.36,-0.62],[0.43,-0.59],[0.51,-0.60],[0.58,-0.58],[0.65,-0.62],[0.72,-0.60],[0.77,-0.63],[0.85,-0.58],[0.91,-0.62],[0.97,-0.60],[1.04,-0.62],[1.10,-0.63],
  [0.04,-0.68],[0.10,-0.73],[0.17,-0.70],[0.24,-0.68],[0.31,-0.74],[0.39,-0.70],[0.45,-0.75],[0.52,-0.69],[0.58,-0.73],[0.64,-0.68],[0.71,-0.73],[0.77,-0.68],[0.83,-0.74],[0.89,-0.69],[0.97,-0.72],[1.03,-0.75],[1.09,-0.68],[1.14,-0.72],[0.05,-0.80],[0.12,-0.83],[0.19,-0.79],[0.27,-0.85],[0.34,-0.83],[0.41,-0.80],[0.48,-0.85],[0.56,-0.82],[0.63,-0.87],[0.70,-0.83],[0.77,-0.87],[0.85,-0.82],[0.92,-0.85],[0.99,-0.83],[1.06,-0.87],[1.16,-0.80],[1.23,-0.85],[1.21,-0.93],[1.35,-0.78],[1.40,-0.93],[0.06,-0.93],[0.13,-0.97],[0.22,-0.93],[0.29,-0.95],[0.36,-0.98],[0.43,-0.93],[0.53,-0.95],[0.62,-0.93],[0.69,-0.97],[0.76,-0.93],[0.83,-0.97],[0.91,-0.95],[0.98,-0.98],[1.04,-0.93],[1.10,-0.99],[1.44,-1.01],
  [0.02,-1.06],[0.10,-1.11],[0.17,-1.08],[0.24,-1.13],[0.31,-1.06],[0.39,-1.11],[0.46,-1.07],[0.65,-1.08],[0.72,-1.16],[0.80,-1.09],[0.85,-1.06],[0.91,-1.12],[0.97,-1.11],[1.06,-1.16],[1.14,-1.11],[1.21,-1.12],[1.27,-1.11],[0.05,-1.21],[0.13,-1.23],[0.22,-1.19],[0.29,-1.26],[0.36,-1.21],[0.48,-1.23],[0.58,-1.18],[0.65,-1.17],[0.75,-1.21],[0.83,-1.21],[0.92,-1.18],[1.04,-1.17],[1.11,-1.21],[1.18,-1.27],[1.27,-1.18],[1.47,-1.18],[0.10,-1.36],[0.18,-1.31],[0.27,-1.38],[0.34,-1.33],[0.46,-1.33],[0.56,-1.31],[0.65,-1.36],[0.85,-1.31],[0.94,-1.37],[1.04,-1.31],[1.16,-1.28],[1.21,-1.36],[1.26,-1.39],[1.35,-1.43],[1.45,-1.37],[0.07,-1.46],[0.17,-1.43],[0.24,-1.48],[0.31,-1.41],[0.48,-1.46],[0.58,-1.43],[0.72,-1.46],[0.82,-1.43],[0.92,-1.42],[1.06,-1.51],[1.16,-1.48],[1.23,-1.43],[1.35,-1.51],[1.47,-1.48],[0.24,-1.58],[0.31,-1.55],[0.43,-1.57],[0.63,-1.60],[0.85,-1.57],[0.99,-1.61],[1.11,-1.55],
  [0.08,-0.10],[0.20,-0.12],[0.28,-0.10],[0.40,-0.12],[0.55,-0.11],[0.67,-0.12],[0.78,-0.11],[0.92,-0.13],[0.10,-0.24],[0.29,-0.25],[0.42,-0.26],[0.55,-0.25],[0.72,-0.28],[0.86,-0.24],[0.02,-0.38],[0.14,-0.38],[0.28,-0.39],[0.47,-0.39],[0.60,-0.40],[0.80,-0.42],[0.90,-0.41],[0.22,-0.52],[0.30,-0.46],[0.44,-0.53],[0.56,-0.52],[0.76,-0.55],[0.96,-0.53],[0.02,-0.51],[0.10,-0.63],[0.26,-0.62],[0.47,-0.64],[0.60,-0.64],[0.88,-0.65],[0.14,-0.77],[0.36,-0.75],[0.48,-0.74],[0.67,-0.78],[0.80,-0.78],[0.95,-0.78],[0.09,-0.88],[0.23,-0.86],[0.44,-0.88],[0.59,-0.87],[0.73,-0.98],[0.87,-0.90]];

const allDays = [].concat(outerTopLeft, outerTopRight, outerBottomLeft, outerBottomRight,
                          coreTopLeft, coreTopRight, coreBottomLeft, coreBottomRight);

// colours for the background field, f = |PC1| + |PC2| + 0.25 |PC1||PC2|, f from 0 to 12
const warmStops = ["#fffad7", "#fff2c4", "#fee2a6", "#fdd094", "#fcbe87", "#faa87e", "#f69179", "#ee7c75", "#e46c74", "#da6476", "#cd647c", "#c36480", "#bc6484"];
const greenStops = ["#f5fada", "#e6f4cd", "#d0e9be", "#b9dfb0", "#a0d2a5", "#8fc69c", "#82ba94", "#78b08d", "#71a888", "#6ca184", "#689b80", "#65977d", "#62937a"];
const highlightColors = ["#000000", "#006400", "#000080", "#00ffff", "#800080"];

const plotLeft = 90, plotRight = 1195, plotTop = 16, plotBottom = 1078;
const x = d3.scaleLinear().domain([-4, 4]).range([plotLeft, plotRight]);
const y = d3.scaleLinear().domain([-4, 4]).range([plotBottom, plotTop]);

const svg = d3.select("#chart");

// background: warm field everywhere, green field in the upper-left quadrant
const warm = d3.scaleLinear().domain(d3.range(13)).range(warmStops).clamp(true);
const green = d3.scaleLinear().domain(d3.range(13)).range(greenStops).clamp(true);
const lutWarm = [], lutGreen = [];
for (let i = 0; i <= 1200; i++) {
  lutWarm.push(d3.rgb(warm(i / 100)));
  lutGreen.push(d3.rgb(green(i / 100)));
}
const plotW = plotRight - plotLeft, plotH = plotBottom - plotTop;
const canvas = document.createElement("canvas");
canvas.width = plotW;
canvas.height = plotH;
const ctx = canvas.getContext("2d");
const img = ctx.createImageData(plotW, plotH);
for (let py = 0; py < plotH; py++) {
  const vy = y.invert(plotTop + py + 0.5);
  const b = Math.abs(vy);
  for (let px = 0; px < plotW; px++) {
    const vx = x.invert(plotLeft + px + 0.5);
    const a = Math.abs(vx);
    const f = Math.min(12, a + b + 0.25 * a * b);
    const c = (vx < 0 && vy > 0 ? lutGreen : lutWarm)[Math.round(f * 100)];
    const k = (py * plotW + px) * 4;
    img.data[k] = c.r; img.data[k + 1] = c.g; img.data[k + 2] = c.b; img.data[k + 3] = 255;
  }
}
ctx.putImageData(img, 0, 0);
svg.append("image")
  .attr("x", plotLeft).attr("y", plotTop)
  .attr("width", plotW).attr("height", plotH)
  .attr("preserveAspectRatio", "none")
  .attr("href", canvas.toDataURL());

// grid
const grid = svg.append("g")
  .attr("stroke", "#b0b0b0")
  .attr("stroke-width", 1.2)
  .attr("stroke-dasharray", "6,3");
grid.selectAll("line.gx").data(gridValues).join("line")
  .attr("class", "gx")
  .attr("x1", d => x(d)).attr("x2", d => x(d))
  .attr("y1", plotTop).attr("y2", plotBottom);
grid.selectAll("line.gy").data(gridValues).join("line")
  .attr("class", "gy")
  .attr("y1", d => y(d)).attr("y2", d => y(d))
  .attr("x1", plotLeft).attr("x2", plotRight);

// all days
svg.append("g")
  .selectAll("circle")
  .data(allDays)
  .join("circle")
  .attr("cx", d => x(d[0]))
  .attr("cy", d => y(d[1]))
  .attr("r", 3.5)
  .attr("fill", "#666666");

// quadrant separators
const zero = svg.append("g")
  .attr("stroke", "#000")
  .attr("stroke-width", 3)
  .attr("stroke-dasharray", "11,5");
zero.append("line").attr("x1", plotLeft).attr("x2", plotRight).attr("y1", y(0)).attr("y2", y(0));
zero.append("line").attr("x1", x(0)).attr("x2", x(0)).attr("y1", plotTop).attr("y2", plotBottom);

// highlighted days
svg.append("g")
  .selectAll("circle")
  .data(highlightDates)
  .join("circle")
  .attr("cx", (d, i) => x(highlightPC1[i]))
  .attr("cy", (d, i) => y(highlightPC2[i]))
  .attr("r", 8.5)
  .attr("fill", (d, i) => highlightColors[i]);

// quadrant labels
const labelAnchors = [[-2.7, 3.2], [0.5, 3.2], [-3.5, -3.2], [0.5, -3.2]];
quadrantLabels.forEach((lines, i) => {
  const t = svg.append("text")
    .attr("x", x(labelAnchors[i][0]))
    .attr("y", y(labelAnchors[i][1]) - (lines.length - 1) * 27)
    .attr("fill", "#0000ff")
    .attr("font-weight", "bold")
    .attr("font-size", 23.6)
    .style("white-space", "pre");
  lines.forEach((line, j) => {
    t.append("tspan")
      .attr("x", x(labelAnchors[i][0]))
      .attr("dy", j === 0 ? 0 : 27)
      .text(line);
  });
});

// legend
const legend = svg.append("g");
legend.append("rect")
  .attr("x", 98).attr("y", 23)
  .attr("width", 162).attr("height", 134)
  .attr("rx", 4)
  .attr("fill", "#ffffff").attr("fill-opacity", 0.8)
  .attr("stroke", "#cccccc").attr("stroke-width", 1);
const rows = legend.selectAll("g.row").data(highlightDates).join("g")
  .attr("class", "row")
  .attr("transform", (d, i) => `translate(0,${38 + i * 25.3})`);
rows.append("circle").attr("cx", 122).attr("cy", 0).attr("r", 8.5)
  .attr("fill", (d, i) => highlightColors[i]);
rows.append("text").attr("x", 153).attr("y", 0).attr("dy", "0.36em")
  .attr("font-size", 16.8).attr("fill", "#222")
  .text(d => d);

// frame
svg.append("rect")
  .attr("x", plotLeft).attr("y", plotTop).attr("width", plotW).attr("height", plotH)
  .attr("fill", "none").attr("stroke", "#333").attr("stroke-width", 1);

// axes
const fmt = d => d.toFixed(1);
const xAxis = svg.append("g")
  .attr("transform", `translate(0,${plotBottom})`)
  .call(d3.axisBottom(x).tickValues(xTickValues).tickFormat(fmt).tickSize(5).tickPadding(1));
const yAxis = svg.append("g")
  .attr("transform", `translate(${plotLeft},0)`)
  .call(d3.axisLeft(y).tickValues(yTickValues).tickFormat(fmt).tickSize(5).tickPadding(5));
[xAxis, yAxis].forEach(a => {
  a.select(".domain").remove();
  a.attr("font-size", 17).attr("font-family", "DejaVu Sans");
  a.selectAll(".tick line").attr("stroke", "#333");
  a.selectAll(".tick text").attr("fill", "#111");
});

svg.append("text")
  .attr("x", (plotLeft + plotRight) / 2).attr("y", 1126)
  .attr("text-anchor", "middle").attr("font-size", 17).attr("fill", "#111")
  .text("PC 1");
svg.append("text")
  .attr("transform", `translate(30,${y(0)}) rotate(-90)`)
  .attr("text-anchor", "middle").attr("font-size", 17).attr("fill", "#111")
  .text("PC 2");
</script>
</body>
</html>
